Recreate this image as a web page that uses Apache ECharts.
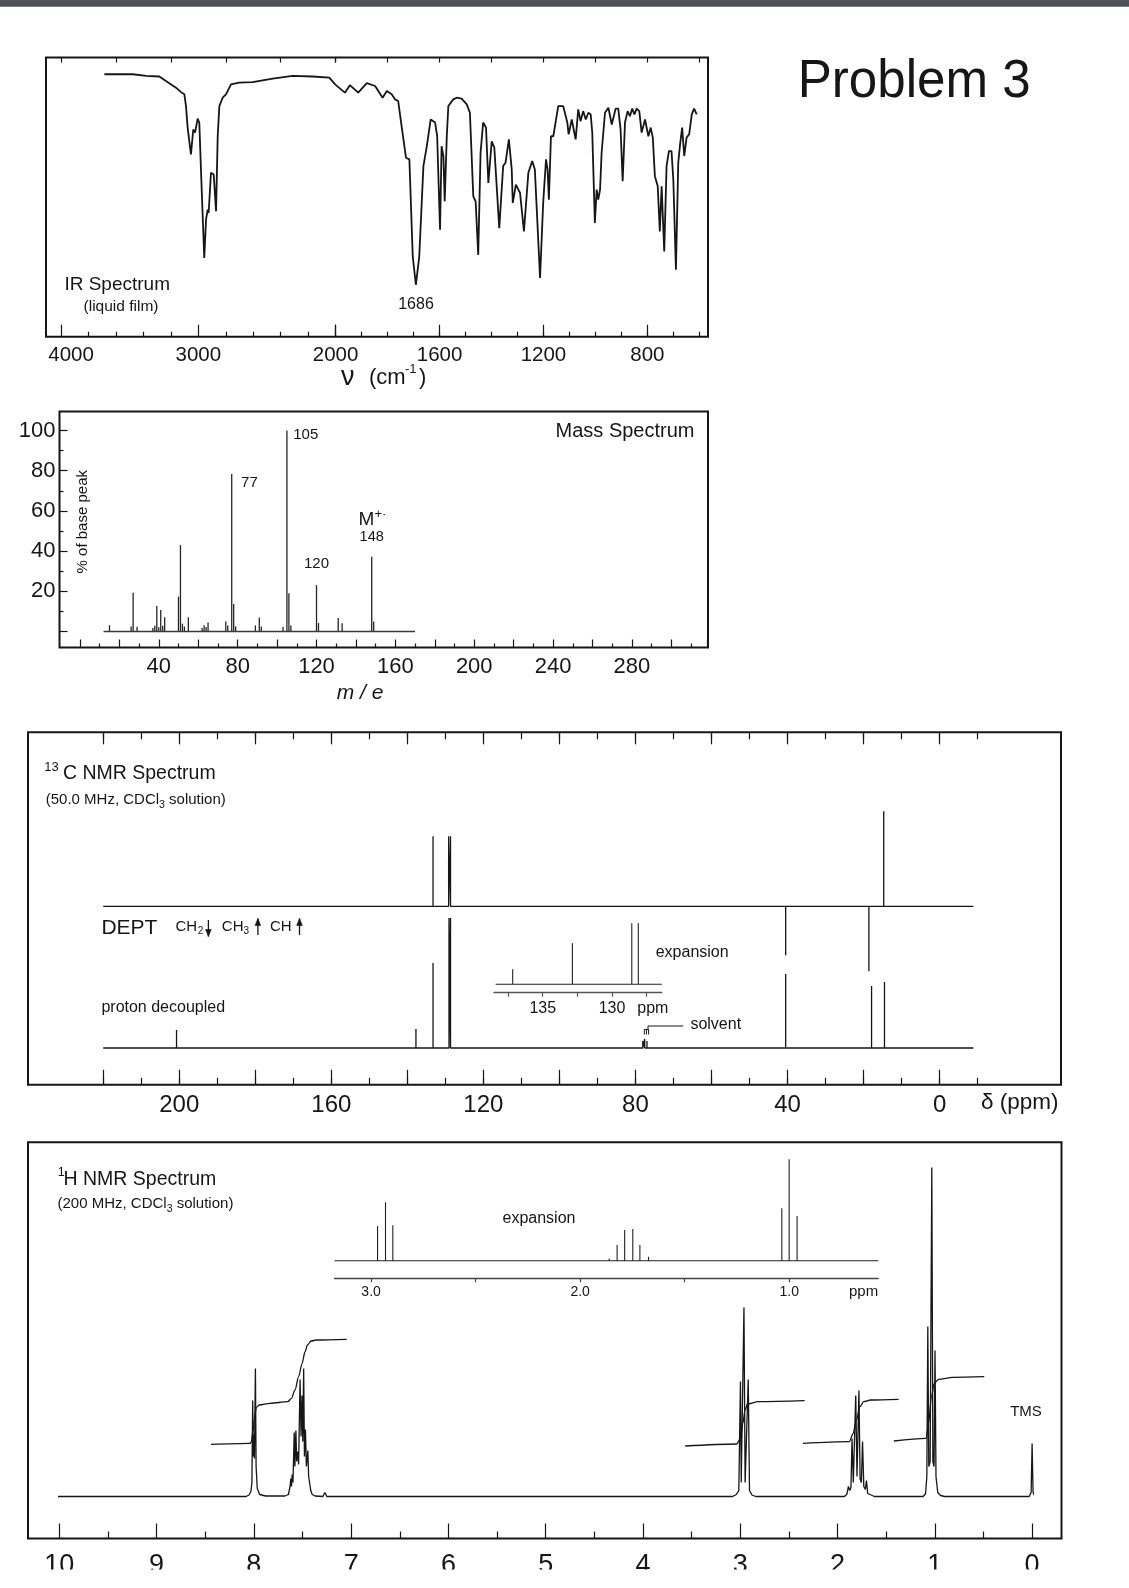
<!DOCTYPE html>
<html>
<head>
<meta charset="utf-8">
<title>Problem 3</title>
<script src="https://cdn.jsdelivr.net/npm/echarts/dist/echarts.min.js"></script>
<style>
html,body{margin:0;padding:0;background:#ffffff;}
#chart{width:1129px;height:1588px;}
</style>
</head>
<body>
<div id="chart"></div>
<script>
// ======================= DATA =======================
// IR spectrum: wavenumber (cm-1) and % transmittance
const irNu = [3685,3478,3381,3284,3236,3163,3126,3102,3090,3078,3054,3037,3024,3005,2993,2981,2957,2944,2932,2925,2908,2888,2871,2859,2847,2823,2799,2762,2702,2604,2458,2313,2167,2046,2000,
  1964,1945,1913,1880,1848,1819,1803,1784,1771,1759,1746,1729,1716,1703,1691,1678,1662,1649,1634,1617,1609,1598,1592,1585,1580,1572,1566,1547,1534,1515,1495,1483,1470,1461,1451,1442,1432,1421,1412,1399,1389,1370,1355,1346,1333,1322,1318,1306,1290,1275,1258,1243,1233,1213,1201,1190,1184,1179,1171,1162,1143,1124,1108,1103,1091,1076,1066,1057,1047,1037,1027,1018,1012,1002,995,989,982,976,963,950,937,931,922,912,903,895,886,876,867,858,850,841,831,822,809,796,787,779,771,760,752,745,735,726,717,707,700,690,681,674,666,658,649,639,629,620,610];
const irT = [94.0,94.0,93.4,93.2,91.6,89.2,87.6,86.8,82.6,74.9,65.3,74.2,73.1,78.1,76.6,59.9,28.2,41.9,45.5,44.3,58.7,58.1,44.9,71.8,82.6,85.6,86.8,90.4,91.0,91.2,92.4,93.4,93.2,92.8,90.2,
  87.4,90.1,87.4,90.8,89.8,85.6,88.0,86.8,85.0,84.4,75.4,64.1,63.5,28.7,18.6,28.7,61.1,68.2,77.8,76.7,71.8,38.3,68.2,64.7,48.5,71.8,82.6,85.0,85.6,85.3,83.2,80.2,50.3,48.5,29.3,65.9,76.7,74.9,55.1,70.0,67.7,38.9,61.1,62.3,70.7,59.9,47.9,54.5,51.5,37.7,58.7,62.9,59.9,21.0,47.9,63.5,59.9,49.1,71.8,71.8,82.6,82.6,76.7,72.5,77.8,70.7,81.4,77.2,80.8,77.8,80.2,79.6,73.1,40.7,52.7,49.1,52.7,65.9,80.2,82.0,76.0,75.4,81.7,81.7,74.2,55.7,76.7,80.8,79.0,81.7,79.6,81.7,80.8,73.1,77.8,71.8,74.9,71.3,57.5,53.9,37.7,53.9,30.5,61.1,66.5,66.5,56.3,24.0,62.3,68.9,74.9,64.7,71.3,72.5,79.6,81.7,79.6];
const irTicksLeft = [4000, 3000, 2000];
const irTicksRight = [1600, 1200, 800];

// Mass spectrum: m/e and % of base peak
const msMz  = [15,26,27,29,37,38,39,40,41,42,43,50,51,52,53,55,62,63,64,65,74,75,77,78,79,89,91,92,103,105,106,107,120,121,131,133,148,149];
const msInt = [3.1,2.5,19.3,2.4,1.8,2.8,12.7,2.1,10.7,2.8,7.1,17.3,43.0,3.9,2.5,7.1,1.8,3.1,2.2,4.5,5.0,3.0,78.4,13.7,2.5,3.0,7.0,2.5,2.2,100,19.0,3.0,23.1,4.2,6.7,4.1,37.2,5.0];
const msBaseline = [12, 170];
const msLabelled = [105, 77, 120, 148];
const msTickLabels = [40, 80, 120, 160, 200, 240, 280];
const msYLabels = [20, 40, 60, 80, 100];

// 13C NMR (ppm, relative intensity)
const cBaseline = [220, -9];
const cDecPpm = [200.7, 137.7, 133.2, 129.0, 128.6, 78.0, 77.5, 76.9, 40.4, 17.8, 14.4];
const cDecInt = [18, 19, 85, 130, 130, 7, 9, 7, 74, 62, 66];
const cDeptPpm = [133.2, 129.1, 128.6, 40.4, 18.5, 14.6];
const cDeptInt = [70, 70, 70, -49, -65, 95];
const cInsBaseline = [138.4, 126.4];
const cInsPpm = [137.17, 132.86, 128.57, 128.10];
const cInsInt = [15, 41, 61, 61];
const cTickLabels = [200, 160, 120, 80, 40, 0];
const cInsTickLabels = [135, 130];

// 1H NMR trace (ppm, intensity)
const hTrace = [
  [10.02,0],[8.08,0],[8.05,1.5],[8.03,5],[8.02,14],[8.012,96],[8.006,40],[8.0,62],[7.994,38],[7.984,128],[7.977,30],[7.965,8],[7.94,2],[7.88,0.5],
  [7.68,0.5],[7.645,2],[7.628,10],[7.62,18],[7.613,10],[7.606,22],[7.598,14],[7.585,64],[7.578,30],[7.568,66],[7.56,35],[7.548,45],[7.54,32],[7.525,117],[7.515,60],[7.505,101],[7.497,55],[7.488,128],[7.48,40],[7.47,67],[7.46,30],[7.445,46],[7.437,20],[7.425,21],[7.415,6],[7.40,2],[7.37,0.5],
  [7.29,0],[7.27,4],[7.25,0],
  [3.08,0],[3.04,2],[3.015,6],[2.998,115],[2.99,14],[2.975,14],[2.962,189],[2.95,14],[2.932,14],[2.918,117],[2.905,6],[2.88,1.5],[2.84,0],
  [1.93,0],[1.905,2],[1.888,10],[1.875,6],[1.862,9],[1.851,58],[1.838,14],[1.825,16],[1.813,101],[1.80,20],[1.792,20],[1.780,106],[1.768,18],[1.755,14],[1.743,55],[1.73,10],[1.714,7],[1.703,16],[1.69,3],[1.67,1],[1.62,0],
  [1.12,0],[1.095,3],[1.082,20],[1.072,170],[1.062,30],[1.048,35],[1.031,329],[1.02,35],[1.008,30],[0.998,146],[0.988,20],[0.97,4],[0.94,1],[0.9,0],
  [0.03,0],[0.01,4],[0.0,53],[-0.01,4],[-0.03,0],[-0.13,0]
];
// 1H integral curves (ppm, height)
const hIntAr = [[8.44,52.2],[8.036,53.2],[8.025,54.8],[8.01,64.8],[7.988,83.2],[7.974,89.2],[7.944,91.5],[7.834,93.2],[7.65,94.8],[7.614,98.2],[7.577,106.5],[7.54,119.8],[7.504,133.2],[7.474,144.8],[7.449,151.5],[7.412,155.5],[7.357,156.5],[7.045,157.2]];
const hInt30 = [[3.566,50.5],[3.036,52.5],[2.998,58.2],[2.973,73.2],[2.951,86.5],[2.925,92.5],[2.815,94.8],[2.338,95.8]];
const hInt18 = [[2.356,53.2],[1.879,54.8],[1.842,62.5],[1.806,76.5],[1.769,89.8],[1.732,94.8],[1.659,96.5],[1.372,97.2]];
const hInt10 = [[1.421,55.5],[1.09,58.2],[1.064,73.2],[1.035,99.8],[1.006,113.2],[0.962,117.2],[0.815,119.2],[0.492,119.8]];
// 1H expansion inset
const hInsBaseline = [3.175, 0.574];
const hInsPpm = [2.969, 2.931, 2.896, 1.861, 1.823, 1.787, 1.748, 1.714, 1.673, 1.035, 1.000, 0.962];
const hInsInt = [34.7, 58.4, 35.4, 2.3, 15.7, 30.7, 31.7, 15.7, 4.0, 52.4, 101.4, 44.7];
const hTickLabels = [10, 9, 8, 7, 6, 5, 4, 3, 2, 1, 0];
const hInsTickLabels = [3, 2, 1];

// ======================= BUILD =======================
const INK = '#161616';
const FONT = "'Liberation Sans', Arial, Helvetica, sans-serif";
const grids = [], xAxes = [], yAxes = [], series = [], gfx = [];

function addGrid(left, top, width, height) {
  grids.push({left: left, top: top, width: width, height: height, containLabel: false, outerBoundsMode: 'none', show: false});
  return grids.length - 1;
}
function addX(gi, o) {
  xAxes.push(Object.assign({type: 'value', gridIndex: gi, splitLine: {show: false}, axisLine: {show: false, onZero: false},
    axisTick: {show: false}, axisLabel: {show: false}}, o));
  return xAxes.length - 1;
}
function addY(gi, o) {
  yAxes.push(Object.assign({type: 'value', gridIndex: gi, show: false, splitLine: {show: false},
    axisLine: {show: false, onZero: false}}, o));
  return yAxes.length - 1;
}
function ticks(len, inside, color) {
  return {show: true, inside: inside !== false, length: len, lineStyle: {color: color || INK, width: 1.2}};
}
function minor(n, len) {
  return {show: true, splitNumber: n, length: len, lineStyle: {color: INK, width: 1.2}};
}
function lab(list, size, margin, fmt, rich) {
  const o = {show: true, fontSize: size, color: INK, fontFamily: FONT, margin: margin,
    formatter: function (v) { return list.some(function (t) { return Math.abs(t - v) < 1e-6; }) ? (fmt ? fmt(v) : String(v)) : ''; }};
  if (rich) o.rich = rich;
  return o;
}
function lineSeries(xi, yi, data, width, color, extra) {
  series.push(Object.assign({type: 'line', xAxisIndex: xi, yAxisIndex: yi, data: data, symbol: 'none', silent: true,
    clip: false, lineStyle: {color: color || INK, width: width}}, extra || {}));
}
function sticks(ppm, inten, ends) {
  const pts = [[ends[0], 0]];
  ppm.forEach(function (p, i) { pts.push([p, 0], [p, inten[i]], [p, 0]); });
  pts.push([ends[1], 0]);
  return pts;
}
// a grid that only carries an x axis (ticks / labels) at its bottom edge
function xAxisGrid(left, top, width, height, axisOpt) {
  const g = addGrid(left, top, width, height);
  addX(g, Object.assign({position: 'bottom'}, axisOpt));
  addY(g, {min: 0, max: 1});
  return g;
}

// ---------- IR ----------
const IR_TOP = 57.5, IR_H = 279.2;
const gIrL = addGrid(61.1, IR_TOP, 274.5, IR_H);
const xIrL = addX(gIrL, {position: 'bottom', min: 2000, max: 4000, inverse: true, interval: 1000,
  axisTick: ticks(12), minorTick: minor(5, 5),
  axisLabel: lab(irTicksLeft, 20.5, 8.5, function (v) { return v === 4000 ? '{s|4000}' : String(v); },
    {s: {fontSize: 20.5, fontFamily: FONT, color: INK, padding: [0, 0, 0, 20]}})});
addX(gIrL, {position: 'top', min: 2000, max: 4000, inverse: true, interval: 400, axisTick: ticks(5)});
const yIrL = addY(gIrL, {min: 0, max: 100});

const gIrR = addGrid(335.6, IR_TOP, 363.7, IR_H);
const xIrR = addX(gIrR, {position: 'bottom', min: 600, max: 2000, inverse: true, interval: 100, axisTick: ticks(5)});
addX(gIrR, {position: 'top', min: 600, max: 2000, inverse: true, interval: 200, axisTick: ticks(5)});
const yIrR = addY(gIrR, {min: 0, max: 100});

xAxisGrid(335.6, IR_TOP, 311.8, IR_H, {min: 800, max: 2000, inverse: true, interval: 400,
  axisTick: ticks(12), axisLabel: lab(irTicksRight, 20.5, 8.5)});

const irLeft = [], irRight = [];
irNu.forEach(function (n, i) {
  if (n >= 2000) irLeft.push([n, irT[i]]);
  if (n <= 2000) irRight.push([n, irT[i]]);
});
lineSeries(xIrL, yIrL, irLeft, 1.8);
lineSeries(xIrR, yIrR, irRight, 1.8);

// ---------- Mass spectrum ----------
const gMs = addGrid(79.9, 430.5, 627, 201);
const xMs = addX(gMs, {show: false, min: 0, max: 318});
const yMs = addY(gMs, {min: 0, max: 100});
xAxisGrid(79.9, 430.5, 627, 217, {min: 0, max: 318, interval: 20,
  axisTick: ticks(8), minorTick: minor(2, 4), axisLabel: lab(msTickLabels, 22, 8)});
const gMsY = addGrid(59.5, 430.5, 600, 201);
addX(gMsY, {show: false, min: 0, max: 1});
addY(gMsY, {show: true, position: 'left', min: 0, max: 100, interval: 20,
  axisLine: {show: false, onZero: false}, axisTick: ticks(8), minorTick: minor(2, 4), axisLabel: lab(msYLabels, 22, 4)});

const msLabelPlacement = [
  {position: [7, -3], fontSize: 15},
  {position: [10, 1], fontSize: 15},
  {position: 'top', distance: 14, fontSize: 15},
  {position: 'top', distance: 12, fontSize: 14.5}
];
lineSeries(xMs, yMs, msBaseline.map(function (m) { return [m, 0]; }), 1.6, '#3a3a3a');
series.push({type: 'bar', xAxisIndex: xMs, yAxisIndex: yMs, barWidth: 1.3, silent: true,
  itemStyle: {color: '#262626'},
  data: msMz.map(function (m, i) {
    const d = {value: [m, msInt[i]]};
    const li = msLabelled.indexOf(m);
    if (li >= 0) d.label = Object.assign({show: true, color: INK, fontFamily: FONT, formatter: String(m)}, msLabelPlacement[li]);
    return d;
  })});

// ---------- 13C NMR ----------
const C_TOP = 732.3, C_H = 352.5;
const gCmin = addGrid(103.2, C_TOP, 874, C_H);
addX(gCmin, {position: 'bottom', min: -10, max: 220, inverse: true, interval: 10, axisTick: ticks(7)});
addX(gCmin, {position: 'top', min: -10, max: 220, inverse: true, interval: 10, axisTick: ticks(7)});
addY(gCmin, {min: 0, max: 1});
const gCmaj = addGrid(103.2, C_TOP, 836.4, C_H);
addX(gCmaj, {position: 'bottom', min: 0, max: 220, inverse: true, interval: 20, axisTick: ticks(15),
  axisLabel: lab(cTickLabels, 24, 9)});
addX(gCmaj, {position: 'top', min: 0, max: 220, inverse: true, interval: 20, axisTick: ticks(12)});
addY(gCmaj, {min: 0, max: 1});

const gCdept = addGrid(103.2, 806.3, 874, 200);
const xCdept = addX(gCdept, {show: false, min: -10, max: 220, inverse: true});
const yCdept = addY(gCdept, {min: -100, max: 100});
lineSeries(xCdept, yCdept, sticks(cDeptPpm, cDeptInt, cBaseline), 1.3);

const gCdec = addGrid(103.2, 898, 874, 150);
const xCdec = addX(gCdec, {show: false, min: -10, max: 220, inverse: true});
const yCdec = addY(gCdec, {min: 0, max: 150});
lineSeries(xCdec, yCdec, sticks(cDecPpm, cDecInt, cBaseline), 1.3);

// inset (expansion)
const gCins = addGrid(494, 904.3, 167.7, 80);
const xCins = addX(gCins, {show: false, min: 126.41, max: 138.52, inverse: true});
const yCins = addY(gCins, {min: 0, max: 80});
lineSeries(xCins, yCins, sticks(cInsPpm, cInsInt, cInsBaseline), 1.1, '#222');
xAxisGrid(494, 904.3, 167.7, 88.4, {min: 126.41, max: 138.52, inverse: true,
  axisLine: {show: true, onZero: false, lineStyle: {color: '#555', width: 1.4}}});
xAxisGrid(508.1, 904.3, 138.5, 88.4, {min: 127.5, max: 137.5, inverse: true, interval: 2.5,
  axisTick: ticks(4, false, '#555'), axisLabel: lab(cInsTickLabels, 16, 7.6)});

// ---------- 1H NMR ----------
xAxisGrid(59.3, 1142.3, 972.8, 396.2, {min: 0, max: 10, inverse: true, interval: 1,
  axisTick: ticks(15), minorTick: minor(2, 7), axisLabel: lab(hTickLabels, 27, 14)});
const gH = addGrid(59.3, 1142.3, 972.8, 354.2);
const xH = addX(gH, {show: false, min: 0, max: 10, inverse: true});
const yH = addY(gH, {min: 0, max: 354.2});
lineSeries(xH, yH, hTrace, 1.3);
[hIntAr, hInt30, hInt18, hInt10].forEach(function (arr) {
  lineSeries(xH, yH, arr, 1.3, INK, {smooth: 0.3, smoothMonotone: 'x'});
});

// inset (expansion)
const gHins = addGrid(334.5, 1160.7, 543.7, 100);
const xHins = addX(gHins, {show: false, min: 0.574, max: 3.175, inverse: true});
const yHins = addY(gHins, {min: 0, max: 100});
lineSeries(xHins, yHins, sticks(hInsPpm, hInsInt, hInsBaseline), 1.1, '#222');
xAxisGrid(334.5, 1160.7, 543.7, 117.6, {min: 0.574, max: 3.175, inverse: true,
  axisLine: {show: true, onZero: false, lineStyle: {color: '#444', width: 1.3}}});
xAxisGrid(371.1, 1160.7, 418.1, 117.6, {min: 1, max: 3, inverse: true, interval: 0.5,
  axisTick: ticks(4, false, '#444'), axisLabel: lab(hInsTickLabels, 14, 6.4, function (v) { return v.toFixed(1); })});

// ---------- graphics: frames and texts ----------
const mctx = document.createElement('canvas').getContext('2d');
function fontStr(size, italic, bold) { return (italic ? 'italic ' : '') + (bold ? 'bold ' : '') + size + 'px ' + FONT; }
function textW(t, size) { mctx.font = fontStr(size); return mctx.measureText(t).width; }
function T(x, y, text, size, o) {
  o = o || {};
  const al = o.align || 'left';
  gfx.push({type: 'text', x: x, y: y, rotation: o.rot || 0, scaleX: o.sx || 1, silent: true, z: 100,
    style: {text: text, fill: INK, font: fontStr(size, o.italic, o.bold), align: al, verticalAlign: 'middle',
      textAlign: al, textVerticalAlign: 'middle'}});
}
function runs(x, y, parts) {
  let cx = x;
  parts.forEach(function (p) { T(cx, y + (p[2] || 0), p[0], p[1]); cx += textW(p[0], p[1]); });
}
function frame(x0, y0, x1, y1) {
  gfx.push({type: 'rect', z: 100, silent: true, shape: {x: x0, y: y0, width: x1 - x0, height: y1 - y0},
    style: {fill: 'none', stroke: INK, lineWidth: 2}});
}
function seg(pts, w) {
  gfx.push({type: 'polyline', z: 100, silent: true, shape: {points: pts}, style: {stroke: INK, lineWidth: w || 1, fill: 'none'}});
}
// small arrow with a filled head (DEPT legend)
function arrow(x, y0, y1, down) {
  seg([[x, y0], [x, y1]], 1.3);
  const tip = down ? y1 : y0, base = down ? y1 - 7 : y0 + 7;
  gfx.push({type: 'polygon', z: 100, silent: true, shape: {points: [[x - 2.8, base], [x + 2.8, base], [x, tip]]},
    style: {fill: INK, stroke: INK, lineWidth: 0.6}});
}

gfx.push({type: 'rect', z: 100, silent: true, shape: {x: 0, y: 0, width: 1129, height: 6.7}, style: {fill: '#4e5257'}});
frame(46, IR_TOP, 708, IR_TOP + IR_H);
frame(59.5, 411.5, 708, 647.5);
frame(28, C_TOP, 1061, C_TOP + C_H);
frame(28, 1142.3, 1061.5, 1538.5);

T(797.7, 82, 'Problem 3', 54, {sx: 233 / textW('Problem 3', 54)});

T(64.4, 285, 'IR Spectrum', 19);
T(121, 306.7, '(liquid film)', 15.5, {align: 'center'});
T(416, 305, '1686', 16, {align: 'center'});
T(341, 378, '\u03bd', 27);
T(369, 378, '(cm', 22);
T(405, 369, '-1', 13);
T(419, 378, ')', 22);

T(625, 431.7, 'Mass Spectrum', 20, {align: 'center'});
T(82.8, 521.7, '% of base peak', 15, {align: 'center', rot: Math.PI / 2});
T(360, 693, 'm / e', 21, {align: 'center', italic: true});
T(358.5, 520, 'M', 19);
T(374.5, 514, '+\u00b7', 13);

T(44.3, 767, '13', 13);
T(62.9, 773.3, 'C NMR Spectrum', 19.5);
runs(45.7, 800, [['(50.0 MHz, CDCl', 15, 0], ['3', 10.5, 5], [' solution)', 15, 0]]);
T(101.4, 928.3, 'DEPT', 21);
T(175.4, 926.7, 'CH', 15); T(197.8, 931, '2', 10); arrow(208.4, 920, 936.5, true);
T(221.8, 926.7, 'CH', 15); T(243.5, 931, '3', 10); arrow(257.9, 918.5, 935, false);
T(270, 926.7, 'CH', 15); arrow(299.5, 918.5, 935, false);
T(101.4, 1007.3, 'proton decoupled', 16);
T(655.7, 952.7, 'expansion', 16);
T(690.4, 1025, 'solvent', 16);
T(652.8, 1008.3, 'ppm', 16, {align: 'center'});
T(981, 1103, '\u03b4 (ppm)', 22.5);
seg([[648, 1026], [683.2, 1026]]);
seg([[648, 1026], [648, 1029.5]]);
seg([[644.3, 1034.5], [644.3, 1029.5], [648.6, 1029.5], [648.6, 1034.5]]);
seg([[646.4, 1029.5], [646.4, 1034.5]]);

T(57.8, 1173, '1', 12.5);
T(63.5, 1179.3, 'H NMR Spectrum', 19.5);
runs(57.5, 1204, [['(200 MHz, CDCl', 15, 0], ['3', 10.5, 5], [' solution)', 15, 0]]);
T(539, 1219, 'expansion', 16, {align: 'center'});
T(863.6, 1292, 'ppm', 15, {align: 'center'});
T(1026, 1411.7, 'TMS', 15, {align: 'center'});

// the scanned page ends just below the 1H axis numbers
gfx.push({type: 'rect', z: 200, silent: true, shape: {x: 0, y: 1569.5, width: 1129, height: 20}, style: {fill: '#ffffff'}});

const chart = echarts.init(document.getElementById('chart'), null, {renderer: 'canvas', width: 1129, height: 1588});
chart.setOption({
  animation: false,
  backgroundColor: '#ffffff',
  grid: grids,
  xAxis: xAxes,
  yAxis: yAxes,
  series: series,
  graphic: {elements: gfx}
});
</script>
</body>
</html>
